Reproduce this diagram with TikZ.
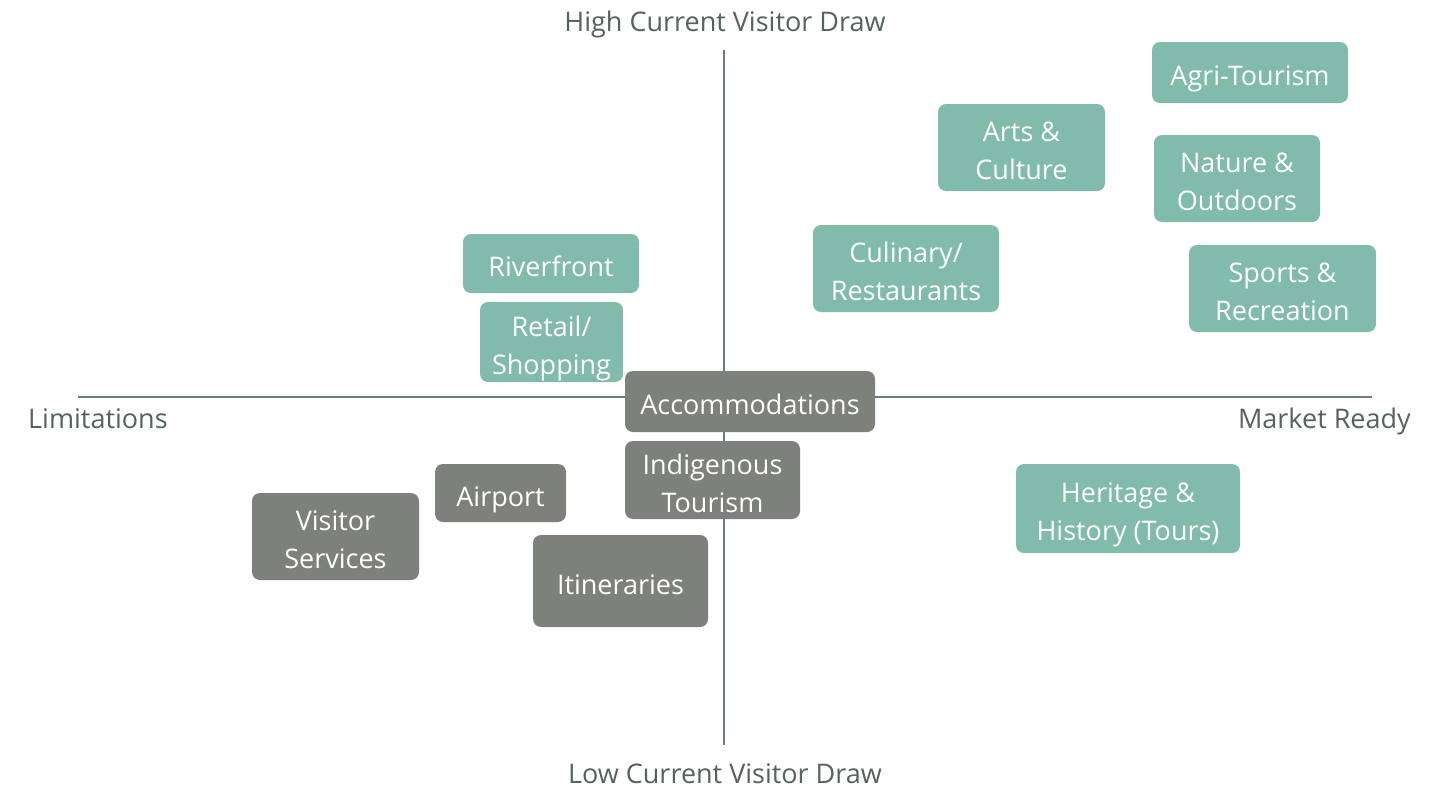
\documentclass[tikz,border=0pt]{standalone}
\usepackage{fontspec}
\setmainfont{Open Sans}
\usepackage{tikz}
\usetikzlibrary{positioning}
\definecolor{ready}{HTML}{80BBAC}
\definecolor{limit}{HTML}{7E807C}
\definecolor{axisline}{HTML}{6F7B79}
\definecolor{axistext}{HTML}{55625F}

\begin{document}
\begin{tikzpicture}[x=1pt,y=-1pt]
\tikzset{box/.style = {rounded corners=8pt,inner sep=0pt,text=white,align=center,
  font=\fontsize{27}{38}\selectfont,text depth=0pt}}
\tikzset{good/.style = {box,fill=ready}}
\tikzset{weak/.style = {box,fill=limit}}
\tikzset{oneline/.style = {text height=26pt}}
\tikzset{twoline/.style = {text height=64pt}}
\tikzset{axislabel/.style = {text=axistext,font=\fontsize{27}{30}\selectfont,inner sep=0pt}}
\useasboundingbox (0,0) rectangle (1432,790);

%axes
\coordinate (left) at (78,397);
\coordinate (right) at (1372,397);
\coordinate (top) at (724,50);
\coordinate (bottom) at (724,745);
\draw[axisline,line width=2pt] (left) -- (right);
\draw[axisline,line width=2pt] (top) -- (bottom);

%axis labels
\node[axislabel,anchor=base] (high) at (725,31.5) {High Current Visitor Draw};
\node[axislabel,anchor=base] (low) at (725,783) {Low Current Visitor Draw};
\node[axislabel,anchor=base west] (lim) at (28,428) {Limitations};
\node[axislabel,anchor=base east] (mkt) at (1411,428) {Market Ready};

%boxes
\node[good,oneline,minimum width=196pt,minimum height=61pt] (agri) at (1250,72.5) {Agri-Tourism};
\node[good,twoline,minimum width=167pt,minimum height=87pt] (arts) at (1021.5,147.5) {Arts \&\\Culture};
\node[good,twoline,minimum width=166pt,minimum height=87pt] (nature) at (1237,178.5) {Nature \&\\Outdoors};
\node[good,twoline,minimum width=186pt,minimum height=87pt] (culinary) at (906,268.5) {Culinary/\\Restaurants};
\node[good,twoline,minimum width=187pt,minimum height=87pt] (sports) at (1282.5,288.5) {Sports \&\\Recreation};
\node[good,oneline,minimum width=176pt,minimum height=59pt] (river) at (551,263.5) {Riverfront};
\node[good,twoline,minimum width=143pt,minimum height=80pt] (retail) at (551.5,342) {Retail/\\Shopping};
\node[good,twoline,minimum width=224pt,minimum height=89pt] (heritage) at (1128,508.5) {Heritage \&\\History (Tours)};
\node[weak,oneline,minimum width=250pt,minimum height=61pt] (accom) at (750,401.5) {Accommodations};
\node[weak,twoline,minimum width=175pt,minimum height=78pt] (indig) at (712.5,480) {Indigenous\\Tourism};
\node[weak,oneline,minimum width=131pt,minimum height=58pt] (airport) at (500.5,493) {Airport};
\node[weak,twoline,minimum width=167pt,minimum height=87pt] (visitor) at (335.5,536.5) {Visitor\\Services};
\node[weak,oneline,minimum width=175pt,minimum height=92pt] (itin) at (620.5,581) {Itineraries};

\end{tikzpicture}
\end{document}
